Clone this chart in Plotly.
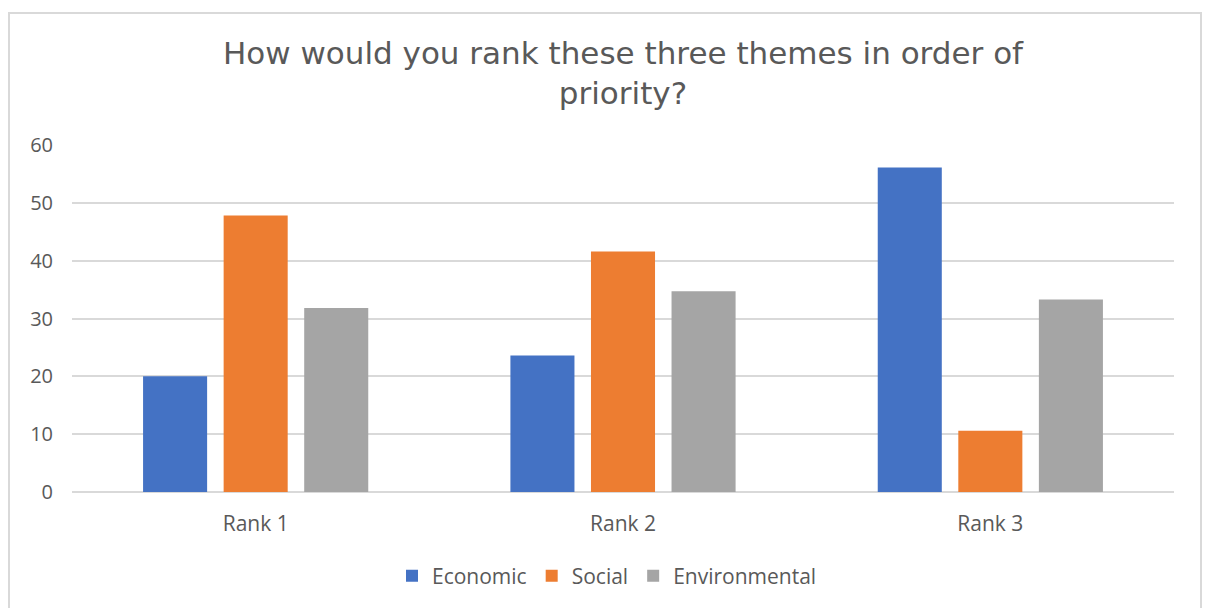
import plotly.graph_objects as go

categories = ["Rank 1", "Rank 2", "Rank 3"]
economic = [20.0, 23.6, 56.1]
social = [47.8, 41.6, 10.6]
environmental = [31.8, 34.7, 33.3]
y_ticks = [0, 10, 20, 30, 40, 50, 60]

W, H = 1208, 608
L, R, T, B = 72, 34, 145, 116
pw, ph = W - L - R, H - T - B

def px_x(x):
    return (x - L) / pw

def px_y(y):
    return (H - B - y) / ph

fig = go.Figure()
for name, vals, col in [("Economic", economic, "#4472C4"),
                        ("Social", social, "#ED7D31"),
                        ("Environmental", environmental, "#A5A5A5")]:
    fig.add_trace(go.Bar(x=categories, y=vals, name=name, marker_color=col,
                         marker_line_width=0))

grey = "#595959"
fig.update_layout(
    width=W, height=H,
    margin=dict(l=L, r=R, t=T, b=B),
    paper_bgcolor="white", plot_bgcolor="white",
    barmode="group", bargap=0.342, bargroupgap=0.205,
    title=dict(text="How would you rank these three themes in order of<br>priority?",
               x=0.5, xanchor="center", xref="paper", y=1 - 64 / H, yanchor="middle",
               font=dict(family="DejaVu Sans", size=31, color=grey)),
    font=dict(family="Open Sans", color=grey),
    showlegend=True,
    legend=dict(orientation="h", x=0.5 - 16 / pw, xanchor="center", y=px_y(576),
                yanchor="middle",
                font=dict(family="Open Sans", size=21, color=grey),
                itemwidth=30, traceorder="normal"),
    xaxis=dict(showgrid=False, showline=False, zeroline=False, ticks="",
               tickfont=dict(size=21, color=grey), ticklabelstandoff=17),
    yaxis=dict(range=[0, 60], tickvals=y_ticks, showgrid=True, gridcolor="#D9D9D9",
               gridwidth=1.5, zeroline=True, zerolinecolor="#D9D9D9", zerolinewidth=1.5,
               showline=False, ticks="", tickfont=dict(size=20, color=grey),
               ticklabelstandoff=18),
    shapes=[dict(type="rect", xref="paper", yref="paper",
                 x0=px_x(9), x1=px_x(1201), y0=px_y(620), y1=px_y(13),
                 line=dict(color="#D9D9D9", width=2), fillcolor="rgba(0,0,0,0)",
                 layer="below")],
)

fig.write_html("out.html")
